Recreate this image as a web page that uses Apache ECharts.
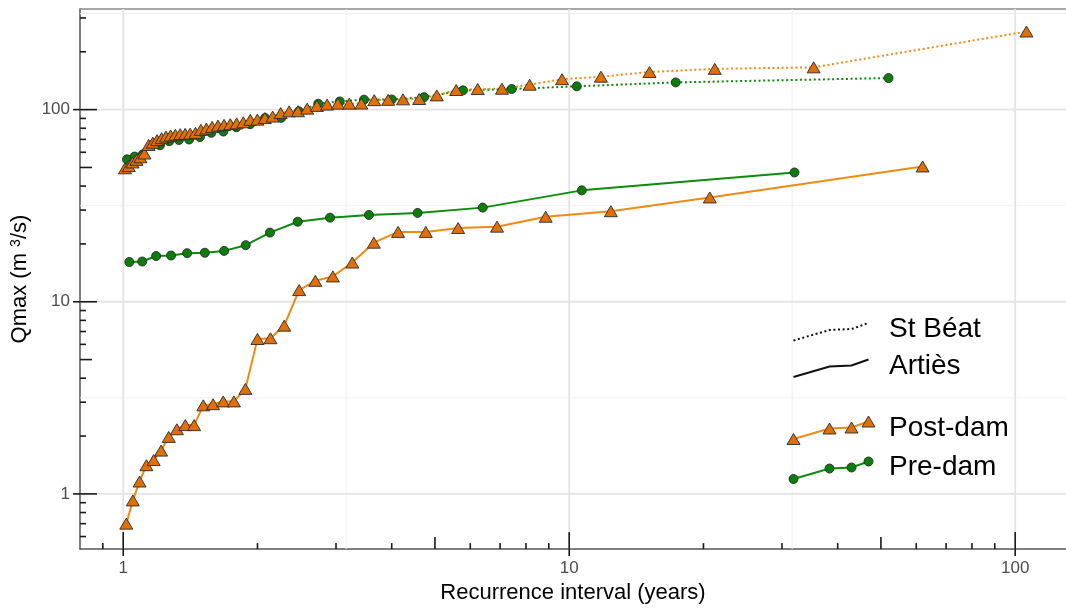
<!DOCTYPE html>
<html>
<head>
<meta charset="utf-8">
<script src="https://cdn.jsdelivr.net/npm/echarts@6/dist/echarts.min.js"></script>
<style>html,body{margin:0;padding:0;background:#fff}#c{width:1066px;height:609px}</style>
</head>
<body>
<div id="c"></div>
<script>
// ---- data (recurrence interval in years, Qmax in m3/s) ----
const stBeatPostT = [1.009, 1.029, 1.049, 1.071, 1.093, 1.116, 1.140, 1.165, 1.191, 1.219, 1.247, 1.277, 1.309, 1.342, 1.377, 1.413, 1.452, 1.493, 1.536, 1.582, 1.631, 1.683, 1.738, 1.796, 1.859, 1.927, 1.999, 2.078, 2.163, 2.255, 2.356, 2.465, 2.585, 2.718, 2.865, 3.029, 3.212, 3.42, 3.655, 3.926, 4.24, 4.609, 5.048, 5.579, 6.235, 7.067, 8.154, 9.636, 11.78, 15.14, 21.2, 35.33, 106];
const stBeatPostQ = [49.5, 50.8, 53.1, 54.8, 56.5, 59.1, 65.5, 67.3, 69.4, 71.0, 72.4, 73.3, 74.0, 74.5, 74.8, 75.0, 75.7, 78.5, 79.7, 81.3, 82.6, 83.3, 84.0, 84.8, 85.9, 88.5, 88.7, 90.4, 92.0, 95.9, 98.0, 98.1, 101.2, 104.6, 106.2, 107.4, 107.4, 107.5, 112.0, 112.4, 113.1, 113.6, 118.6, 126.5, 128.0, 128.5, 134.8, 144.0, 148.4, 157.0, 163.0, 166.0, 255.0];
const stBeatPreT = [1.02, 1.061, 1.106, 1.156, 1.209, 1.268, 1.333, 1.405, 1.486, 1.576, 1.677, 1.793, 1.926, 2.08, 2.261, 2.476, 2.737, 3.059, 3.467, 4.0, 4.727, 5.778, 7.429, 10.4, 17.33, 52];
const stBeatPreQ = [55.1, 57.0, 58.5, 65.0, 65.2, 68.5, 69.5, 69.9, 72.0, 75.7, 76.9, 81.0, 84.0, 90.5, 90.6, 98.0, 107.4, 110.3, 112.7, 112.9, 116.1, 126.0, 128.0, 132.2, 138.6, 146.0];
const artiesPostT = [1.016, 1.051, 1.088, 1.127, 1.170, 1.216, 1.265, 1.319, 1.378, 1.442, 1.512, 1.590, 1.676, 1.771, 1.879, 2.0, 2.138, 2.296, 2.48, 2.696, 2.952, 3.263, 3.647, 4.133, 4.769, 5.636, 6.889, 8.857, 12.4, 20.67, 62];
const artiesPostQ = [0.70, 0.925, 1.16, 1.41, 1.50, 1.68, 1.98, 2.17, 2.28, 2.28, 2.89, 2.93, 3.03, 3.03, 3.52, 6.40, 6.46, 7.51, 11.5, 12.85, 13.55, 16.0, 20.3, 23.1, 23.1, 24.2, 24.6, 27.7, 29.6, 34.9, 50.6];
const artiesPreT = [1.032, 1.103, 1.185, 1.28, 1.391, 1.524, 1.684, 1.882, 2.133, 2.462, 2.909, 3.556, 4.571, 6.4, 10.67, 32];
const artiesPreQ = [16.1, 16.2, 17.3, 17.4, 17.9, 18.0, 18.4, 19.7, 22.9, 26.1, 27.4, 28.3, 29.0, 30.9, 38.0, 47.1];

// ---- axis breaks / tick labels ----
const xTickLabels = [1, 10, 100];
const yTickLabels = [1, 10, 100];
const xMinorBreaks = [3.162, 31.62];
const yMinorBreaks = [3.162, 31.62, 316.2];
const xLogTicksLong = [1, 10, 100];
const xLogTicksMid = [5, 50];
const xLogTicksShort = [0.9, 2, 3, 4, 6, 7, 8, 9, 20, 30, 40, 60, 70, 80, 90];
const yLogTicksLong = [1, 10, 100];
const yLogTicksMid = [5, 50];
const yLogTicksShort = [0.6, 0.7, 0.8, 0.9, 2, 3, 4, 6, 7, 8, 9, 20, 30, 40, 60, 70, 80, 90, 200, 300];

const FONT = "'Liberation Sans', Arial, Helvetica, sans-serif";
const ORANGE_LINE = '#EF8A16', ORANGE_FILL = '#E06F06';
const GREEN_LINE = '#0E8A0E', GREEN_FILL = '#0B7D0B';
const X_MIN = 0.8, X_MAX = 130, Y_MIN = 0.516, Y_MAX = 334;

function pairs(a, b) { return a.map((v, i) => [v, b[i]]); }

function vLineSeries(values, stroke, width) {
  return {
    type: 'custom', silent: true, z: 1, animation: false,
    data: values.map(v => [v, 1]),
    renderItem: (params, api) => {
      const x = api.coord([api.value(0), 1])[0];
      const cs = params.coordSys;
      return { type: 'line', shape: { x1: x, y1: cs.y, x2: x, y2: cs.y + cs.height }, style: { stroke, lineWidth: width } };
    }
  };
}
function hLineSeries(values, stroke, width) {
  return {
    type: 'custom', silent: true, z: 1, animation: false,
    data: values.map(v => [1, v]),
    renderItem: (params, api) => {
      const y = api.coord([1, api.value(1)])[1];
      const cs = params.coordSys;
      return { type: 'line', shape: { x1: cs.x, y1: y, x2: cs.x + cs.width, y2: y }, style: { stroke, lineWidth: width } };
    }
  };
}
function xTickSeries(values, inner, outer) {
  return {
    type: 'custom', silent: true, z: 10, animation: false, clip: false,
    data: values.map(v => [v, 1]),
    renderItem: (params, api) => {
      const x = api.coord([api.value(0), 1])[0];
      const cs = params.coordSys;
      const b = cs.y + cs.height;
      return { type: 'line', shape: { x1: x, y1: b + outer, x2: x, y2: b - inner }, style: { stroke: '#1a1a1a', lineWidth: 1.6 } };
    }
  };
}
function yTickSeries(values, inner, outer) {
  return {
    type: 'custom', silent: true, z: 10, animation: false, clip: false,
    data: values.map(v => [1, v]),
    renderItem: (params, api) => {
      const y = api.coord([1, api.value(1)])[1];
      const cs = params.coordSys;
      return { type: 'line', shape: { x1: cs.x - outer, y1: y, x2: cs.x + inner, y2: y }, style: { stroke: '#1a1a1a', lineWidth: 1.6 } };
    }
  };
}
function dataSeries(name, T, Q, lineColor, fillColor, symbol, size, dashed) {
  return {
    name, type: 'line', z: 3, animation: false,
    data: pairs(T, Q),
    symbol, symbolSize: size, showSymbol: true,
    lineStyle: { color: lineColor, width: 2, type: dashed ? [2, 2.6] : 'solid' },
    itemStyle: { color: fillColor, borderColor: '#2a2a2a', borderWidth: 0.9 }
  };
}

function isLabel(v, list) { return list.some(t => Math.abs(v - t) / t < 1e-6); }

// ---- legend (drawn as graphics) ----
const legendShape = [[0, 0], [36, -10.5], [58, -11.5], [75, -17.5]];
const legendRows = [
  { label: 'St Béat', y0: 340.5, textY: 329, kind: 'dotted' },
  { label: 'Artiès', y0: 377, textY: 366, kind: 'solid' },
  { label: 'Post-dam', y0: 439, textY: 428.5, kind: 'tri' },
  { label: 'Pre-dam', y0: 479, textY: 467.5, kind: 'circ' }
];
const legendX0 = 793.5, legendTextX = 889;
const graphics = [];
legendRows.forEach(r => {
  const pts = legendShape.map(p => [legendX0 + p[0], r.y0 + p[1]]);
  let stroke = '#111', dash = null;
  if (r.kind === 'dotted') dash = [2, 2.6];
  if (r.kind === 'tri') stroke = ORANGE_LINE;
  if (r.kind === 'circ') stroke = GREEN_LINE;
  graphics.push({ type: 'polyline', shape: { points: pts }, style: { stroke, lineWidth: 2, fill: null, lineDash: dash }, z: 20 });
  if (r.kind === 'tri') {
    pts.forEach(p => graphics.push({ type: 'polygon', shape: { points: [[p[0], p[1] - 5.5], [p[0] + 6.5, p[1] + 5.5], [p[0] - 6.5, p[1] + 5.5]] }, style: { fill: ORANGE_FILL, stroke: '#2a2a2a', lineWidth: 0.9 }, z: 21 }));
  }
  if (r.kind === 'circ') {
    pts.forEach(p => graphics.push({ type: 'circle', shape: { cx: p[0], cy: p[1], r: 4.5 }, style: { fill: GREEN_FILL, stroke: '#2a2a2a', lineWidth: 0.9 }, z: 21 }));
  }
  graphics.push({ type: 'text', x: legendTextX, y: r.textY, style: { text: r.label, fill: '#000', font: "28px " + FONT, textVerticalAlign: 'middle', textAlign: 'left' }, z: 21 });
});

const chart = echarts.init(document.getElementById('c'), null, { renderer: 'canvas' });
chart.setOption({
  animation: false,
  backgroundColor: '#ffffff',
  textStyle: { fontFamily: FONT },
  grid: { left: 80, right: 0, top: 9, bottom: 58, containLabel: false },
  xAxis: [{
    type: 'log', logBase: 10, min: X_MIN, max: X_MAX,
    axisLine: { show: true, lineStyle: { color: '#555', width: 1.5 } },
    axisTick: { show: false },
    splitLine: { show: false }, minorSplitLine: { show: false },
    axisLabel: { color: '#4D4D4D', fontSize: 17, margin: 11, fontFamily: FONT, showMinLabel: false, showMaxLabel: false,
      formatter: v => isLabel(v, xTickLabels) ? String(Math.round(v)) : '' },
    name: 'Recurrence interval (years)', nameLocation: 'middle', nameGap: 30,
    nameTextStyle: { color: '#000', fontSize: 22, fontFamily: FONT }
  }, {
    type: 'log', logBase: 10, min: X_MIN, max: X_MAX, position: 'top',
    axisLine: { show: true, lineStyle: { color: '#8a8a8a', width: 1.5 } },
    axisTick: { show: false }, axisLabel: { show: false }, splitLine: { show: false }
  }],
  yAxis: [{
    type: 'log', logBase: 10, min: Y_MIN, max: Y_MAX,
    axisLine: { show: true, lineStyle: { color: '#555', width: 1.5 } },
    axisTick: { show: false },
    splitLine: { show: false }, minorSplitLine: { show: false },
    axisLabel: { color: '#4D4D4D', fontSize: 17, margin: 10, fontFamily: FONT, showMinLabel: false, showMaxLabel: false,
      formatter: v => isLabel(v, yTickLabels) ? String(Math.round(v)) : '' },
    name: 'Qmax (m {sup|3}/s)', nameLocation: 'middle', nameGap: 47, nameRotate: 90,
    nameTextStyle: { color: '#000', fontSize: 22, fontFamily: FONT,
      rich: { sup: { fontSize: 14, color: '#000', verticalAlign: 'top', lineHeight: 22, fontFamily: FONT } } }
  }],
  graphic: graphics,
  series: [
    vLineSeries(xMinorBreaks, '#efefef', 1),
    hLineSeries(yMinorBreaks, '#efefef', 1),
    vLineSeries(xTickLabels, '#e4e4e4', 1.8),
    hLineSeries(yTickLabels, '#e4e4e4', 1.8),
    dataSeries('Artiès Pre-dam', artiesPreT, artiesPreQ, GREEN_LINE, GREEN_FILL, 'circle', 9, false),
    dataSeries('Artiès Post-dam', artiesPostT, artiesPostQ, ORANGE_LINE, ORANGE_FILL, 'triangle', [13, 11], false),
    dataSeries('St Béat Pre-dam', stBeatPreT, stBeatPreQ, GREEN_LINE, GREEN_FILL, 'circle', 9, true),
    dataSeries('St Béat Post-dam', stBeatPostT, stBeatPostQ, ORANGE_LINE, ORANGE_FILL, 'triangle', [13, 11], true),
    xTickSeries(xLogTicksLong, 17, 7),
    xTickSeries(xLogTicksMid, 12, 0),
    xTickSeries(xLogTicksShort, 6, 0),
    yTickSeries(yLogTicksLong, 17, 7),
    yTickSeries(yLogTicksMid, 12, 0),
    yTickSeries(yLogTicksShort, 6, 0)
  ]
});
</script>
</body>
</html>
